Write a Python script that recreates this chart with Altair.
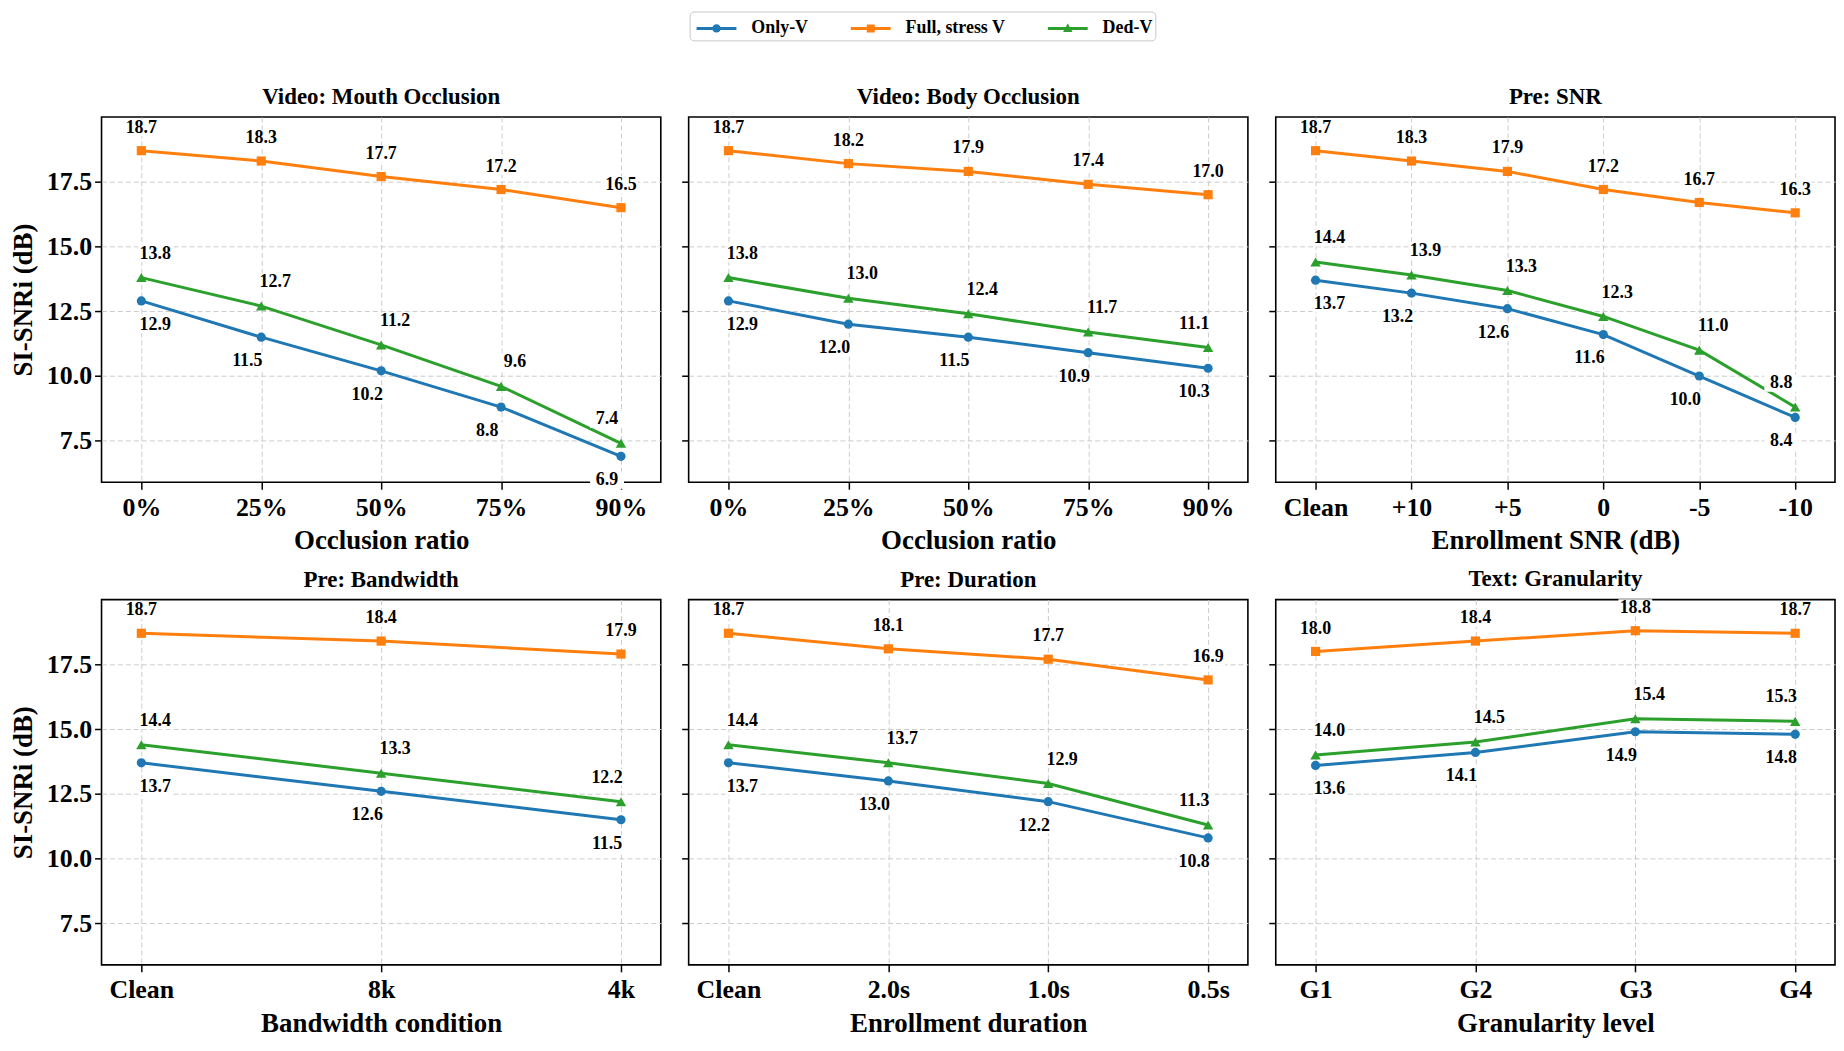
import altair as alt
import pandas as pd

SERIES = ["Only-V", "Full, stress V", "Ded-V"]
COLORS = ["#1f77b4", "#ff7f0e", "#2ca02c"]
MARKERS = ["circle", "square", "triangle-up"]
MARKER_SIZES = [85, 85, 110]

panel_titles = ["Video: Mouth Occlusion", "Video: Body Occlusion", "Pre: SNR",
                "Pre: Bandwidth", "Pre: Duration", "Text: Granularity"]
x_titles = ["Occlusion ratio", "Occlusion ratio", "Enrollment SNR (dB)",
            "Bandwidth condition", "Enrollment duration", "Granularity level"]
x_labels = [
    ["0%", "25%", "50%", "75%", "90%"],
    ["0%", "25%", "50%", "75%", "90%"],
    ["Clean", "+10", "+5", "0", "-5", "-10"],
    ["Clean", "8k", "4k"],
    ["Clean", "2.0s", "1.0s", "0.5s"],
    ["G1", "G2", "G3", "G4"],
]
only_v = [
    [12.9, 11.5, 10.2, 8.8, 6.9],
    [12.9, 12.0, 11.5, 10.9, 10.3],
    [13.7, 13.2, 12.6, 11.6, 10.0, 8.4],
    [13.7, 12.6, 11.5],
    [13.7, 13.0, 12.2, 10.8],
    [13.6, 14.1, 14.9, 14.8],
]
full_v = [
    [18.7, 18.3, 17.7, 17.2, 16.5],
    [18.7, 18.2, 17.9, 17.4, 17.0],
    [18.7, 18.3, 17.9, 17.2, 16.7, 16.3],
    [18.7, 18.4, 17.9],
    [18.7, 18.1, 17.7, 16.9],
    [18.0, 18.4, 18.8, 18.7],
]
ded_v = [
    [13.8, 12.7, 11.2, 9.6, 7.4],
    [13.8, 13.0, 12.4, 11.7, 11.1],
    [14.4, 13.9, 13.3, 12.3, 11.0, 8.8],
    [14.4, 13.3, 12.2],
    [14.4, 13.7, 12.9, 11.3],
    [14.0, 14.5, 15.4, 15.3],
]
y_ticks = [7.5, 10.0, 12.5, 15.0, 17.5]

FONT = "Liberation Serif"
W, H = 562, 367

# label placement groups (style): dx, dy in pixels
OFFSETS = {
    "full": (0, -23),
    "ded": (14, -24),
    "ded_last": (-14, -24),
    "only_first": (14, 24),
    "only": (-14, 24),
}


def label_group(series, j, n):
    if series == "Full, stress V":
        return "full"
    if series == "Ded-V":
        return "ded_last" if j == n - 1 else "ded"
    return "only_first" if j == 0 else "only"


# legend symbols: line segment + marker (unit path, scaled by symbol size)
LEG_PATHS = [
    "M-1.43,-0.107H1.43V0.107H-1.43Z M0.3,0A0.3,0.3 0 1,1 -0.3,0A0.3,0.3 0 1,1 0.3,0Z",
    "M-1.43,-0.107H1.43V0.107H-1.43Z M-0.286,-0.286H0.286V0.286H-0.286Z",
    "M-1.43,-0.107H1.43V0.107H-1.43Z M0,-0.357L0.343,0.257L-0.343,0.257Z",
]
BOX_PATH = "M-1,-0.5H1V0.5H-1Z"


def panel(i):
    cats = x_labels[i]
    n = len(cats)
    rows = []
    for s, vals in zip(SERIES, [only_v[i], full_v[i], ded_v[i]]):
        for j, (c, v) in enumerate(zip(cats, vals)):
            rows.append(dict(cond=c, idx=j, series=s, value=v,
                             label=f"{v:.1f}", grp=label_group(s, j, n)))
    df = pd.DataFrame(rows)
    pad = 40 * (n - 1) / (W - 80)
    first_col = (i % 3 == 0)
    x = alt.X("cond:N",
              scale=alt.Scale(type="point", domain=cats, padding=pad),
              axis=alt.Axis(title=x_titles[i], labelAngle=0, grid=True))
    y = alt.Y("value:Q",
              scale=alt.Scale(domain=[5.9, 20.0], nice=False, zero=False),
              axis=alt.Axis(values=y_ticks, format=".1f", grid=True,
                            title="SI-SNRi (dB)" if first_col else None,
                            labels=first_col))
    base = alt.Chart(df).encode(x=x, y=y)
    layers = []
    for s, col in zip(SERIES, COLORS):
        layers.append(base.transform_filter(alt.datum.series == s)
                      .mark_line(strokeWidth=3, color=col)
                      .encode(order=alt.Order("idx:Q")))
    for s, col, m, sz in zip(SERIES, COLORS, MARKERS, MARKER_SIZES):
        layers.append(base.transform_filter(alt.datum.series == s)
                      .mark_point(shape=m, filled=True, size=sz, opacity=1,
                                  color=col))
    for g, (dx, dy) in OFFSETS.items():
        sub = base.transform_filter(alt.datum.grp == g)
        layers.append(sub.mark_point(shape=BOX_PATH, filled=True, size=1156,
                                     opacity=1, color="white", strokeWidth=0,
                                     xOffset=dx, yOffset=dy))
        layers.append(sub.mark_text(dx=dx, dy=dy, font=FONT, fontSize=18,
                                    fontWeight="bold", color="black",
                                    align="center", baseline="middle")
                      .encode(text="label:N"))
    if i == 0:
        leg = alt.Legend(orient="none", legendX=591, legendY=-106,
                         direction="horizontal", title=None,
                         labelFont=FONT, labelFontSize=18,
                         labelFontWeight="bold", labelColor="black",
                         symbolSize=784, symbolStrokeWidth=0,
                         symbolOffset=10, labelOffset=21, columnPadding=38,
                         padding=3, strokeColor="#c8c8c8", fillColor="white",
                         cornerRadius=4)
        layers.append(
            base.transform_filter("datum.value < -999")
            .mark_point(filled=True, opacity=1)
            .encode(color=alt.Color("series:N",
                                    scale=alt.Scale(domain=SERIES, range=COLORS),
                                    legend=leg),
                    shape=alt.Shape("series:N",
                                    scale=alt.Scale(domain=SERIES, range=LEG_PATHS),
                                    legend=leg)))
    return alt.layer(*layers).properties(
        width=W, height=H,
        title=alt.TitleParams(panel_titles[i], font=FONT, fontSize=23,
                              fontWeight="bold", color="black", offset=8,
                              anchor="middle"))


chart = alt.concat(*[panel(i) for i in range(6)], columns=3,
                   spacing={"row": 12, "column": 18}).properties(
    padding=0
).configure_axis(
    labelFont=FONT, labelFontSize=26, labelFontWeight="bold", labelColor="black",
    titleFont=FONT, titleFontSize=27, titleFontWeight="bold", titleColor="black",
    tickColor="black", tickSize=7, tickWidth=1.5, domain=False,
    gridColor="#cccccc", gridDash=[5, 3], gridWidth=1
).configure_axisX(titlePadding=8, labelPadding=5).configure_axisY(
    titlePadding=9, labelPadding=3
).configure_view(stroke="black", strokeWidth=1.6)

chart.save("out.html", embed_options={"renderer": "svg", "actions": False})
